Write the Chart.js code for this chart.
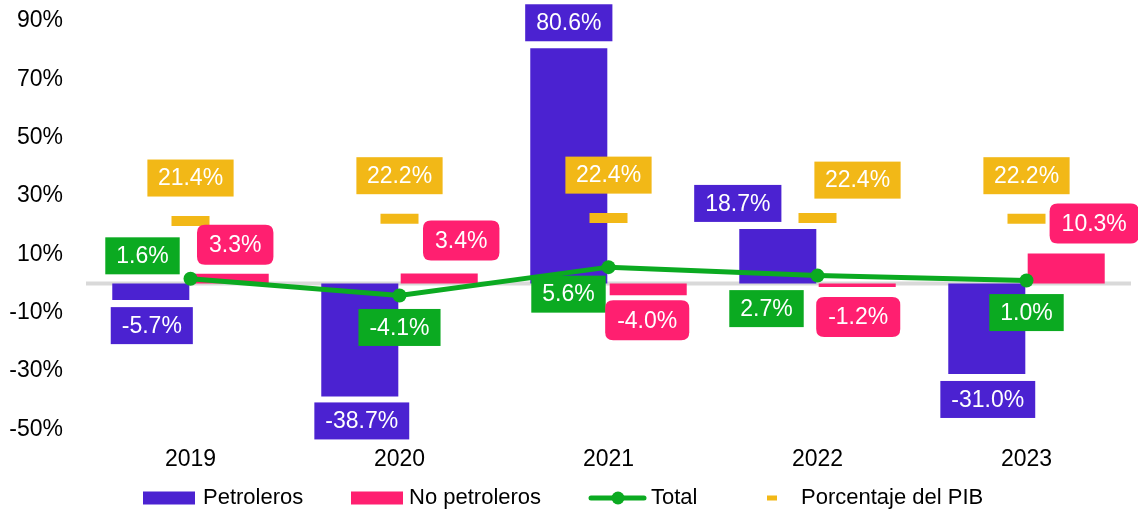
<!DOCTYPE html>
<html>
<head>
<meta charset="utf-8">
<script src="https://cdn.jsdelivr.net/npm/chart.js@4/dist/chart.umd.min.js"></script>
<style>
  html, body { margin: 0; padding: 0; background: #ffffff; }
  #wrap { width: 1138px; height: 512px; position: relative; }
</style>
</head>
<body>
<div id="wrap"><canvas id="c" width="1138" height="512"></canvas></div>
<script>
// ---- data ----
const years = ['2019', '2020', '2021', '2022', '2023'];
const petroleros = [-5.7, -38.7, 80.6, 18.7, -31.0];
const noPetroleros = [3.3, 3.4, -4.0, -1.2, 10.3];
const total = [1.6, -4.1, 5.6, 2.7, 1.0];
const pctPIB = [21.4, 22.2, 22.4, 22.4, 22.2];
const yTickValues = [-50, -30, -10, 10, 30, 50, 70, 90];

// ---- label placement nudges (pixels, relative to default anchor) ----
const nudgePetroleros = [[1, 0], [2, -1], [0, 0], [-40, 0], [1, 0]];
const nudgeNoPetroleros = [[5, -2], [22, -6], [-1, -2], [1, 3], [28, -3]];
const nudgeTotal = [[-48, -23], [0, 32], [-40, 27], [-51, 33], [0, 32]];
const nudgePIB = [[0, 0], [0, 0], [0, 0], [40, 5], [0, 0]];

const PURPLE = '#4B22D1';
const PINK = '#FF1F70';
const GREEN = '#0BAA21';
const YELLOW = '#F2B817';
const FONT = '"Liberation Sans", Arial, sans-serif';

function roundRect(ctx, x, y, w, h, r) {
  ctx.beginPath();
  ctx.moveTo(x + r, y);
  ctx.lineTo(x + w - r, y);
  ctx.quadraticCurveTo(x + w, y, x + w, y + r);
  ctx.lineTo(x + w, y + h - r);
  ctx.quadraticCurveTo(x + w, y + h, x + w - r, y + h);
  ctx.lineTo(x + r, y + h);
  ctx.quadraticCurveTo(x, y + h, x, y + h - r);
  ctx.lineTo(x, y + r);
  ctx.quadraticCurveTo(x, y, x + r, y);
  ctx.closePath();
}

const zeroLinePlugin = {
  id: 'zeroLine',
  beforeDatasetsDraw(chart) {
    const { ctx, chartArea, scales } = chart;
    const y = scales.y.getPixelForValue(0);
    ctx.save();
    ctx.strokeStyle = '#D9D9D9';
    ctx.lineWidth = 4;
    ctx.beginPath();
    ctx.moveTo(chartArea.left, y);
    ctx.lineTo(chartArea.right, y);
    ctx.stroke();
    ctx.restore();
  }
};

const labelPlugin = {
  id: 'valueLabels',
  afterDatasetsDraw(chart) {
    const ctx = chart.ctx;
    ctx.save();
    ctx.font = '23px ' + FONT;
    ctx.textAlign = 'center';
    ctx.textBaseline = 'middle';
    chart.data.datasets.forEach((ds, di) => {
      const meta = chart.getDatasetMeta(di);
      const lab = ds.lbl;
      meta.data.forEach((el, i) => {
        const v = ds.data[i];
        const text = v.toFixed(1) + '%';
        const w = ctx.measureText(text).width + 2 * lab.pad;
        const h = lab.h;
        const [dx, dy] = lab.nudge[i];
        let cx = el.x + dx;
        let cy;
        if (lab.mode === 'bar') {
          const props = el.getProps(['x', 'y', 'base'], true);
          const top = Math.min(props.y, props.base);
          const bot = Math.max(props.y, props.base);
          cy = v >= 0 ? top - 7 - h / 2 : bot + 7 + h / 2;
        } else if (lab.mode === 'above') {
          cy = el.y - 43;
        } else {
          cy = el.y;
        }
        cy += dy;
        ctx.fillStyle = lab.color;
        if (lab.radius > 0) {
          roundRect(ctx, cx - w / 2, cy - h / 2, w, h, lab.radius);
          ctx.fill();
        } else {
          ctx.fillRect(cx - w / 2, cy - h / 2, w, h);
        }
        ctx.fillStyle = '#FFFFFF';
        ctx.fillText(text, cx, cy + 1);
      });
    });
    ctx.restore();
  }
};

const legendPlugin = {
  id: 'customLegend',
  afterDraw(chart) {
    const ctx = chart.ctx;
    const y = 498;
    ctx.save();
    ctx.font = '22px ' + FONT;
    ctx.textAlign = 'left';
    ctx.textBaseline = 'middle';
    // Petroleros
    ctx.fillStyle = PURPLE;
    ctx.fillRect(143, y - 6.5, 52, 13);
    ctx.fillStyle = '#000000';
    ctx.fillText('Petroleros', 203, y);
    // No petroleros
    ctx.fillStyle = PINK;
    ctx.fillRect(351, y - 6.5, 52, 13);
    ctx.fillStyle = '#000000';
    ctx.fillText('No petroleros', 409, y);
    // Total
    ctx.strokeStyle = GREEN;
    ctx.lineWidth = 5;
    ctx.lineCap = 'round';
    ctx.beginPath();
    ctx.moveTo(591, y);
    ctx.lineTo(644, y);
    ctx.stroke();
    ctx.fillStyle = GREEN;
    ctx.beginPath();
    ctx.arc(618, y, 6.5, 0, Math.PI * 2);
    ctx.fill();
    ctx.fillStyle = '#000000';
    ctx.fillText('Total', 651, y);
    // PIB
    ctx.fillStyle = YELLOW;
    ctx.fillRect(767, y - 2.5, 10, 5);
    ctx.fillStyle = '#000000';
    ctx.fillText('Porcentaje del PIB', 801, y);
    ctx.restore();
  }
};

const chart = new Chart(document.getElementById('c'), {
  data: {
    labels: years,
    datasets: [
      {
        type: 'line', label: 'Total', data: total, order: 0,
        borderColor: GREEN, backgroundColor: GREEN, borderWidth: 5,
        pointRadius: 7, pointBackgroundColor: GREEN, pointBorderWidth: 0,
        tension: 0,
        lbl: { mode: 'point', color: GREEN, pad: 11, h: 37, radius: 0, nudge: nudgeTotal }
      },
      {
        type: 'line', label: 'Porcentaje del PIB', data: pctPIB, order: 1,
        showLine: false, pointStyle: 'line', pointRadius: 19,
        pointBorderWidth: 10, pointBorderColor: YELLOW, borderColor: YELLOW,
        lbl: { mode: 'above', color: YELLOW, pad: 10.5, h: 37, radius: 0, nudge: nudgePIB }
      },
      {
        type: 'bar', label: 'Petroleros', data: petroleros, order: 2,
        backgroundColor: PURPLE,
        categoryPercentage: 0.76, barPercentage: 0.97,
        lbl: { mode: 'bar', color: PURPLE, pad: 11, h: 37, radius: 0, nudge: nudgePetroleros }
      },
      {
        type: 'bar', label: 'No petroleros', data: noPetroleros, order: 2,
        backgroundColor: PINK,
        categoryPercentage: 0.76, barPercentage: 0.97,
        lbl: { mode: 'bar', color: PINK, pad: 12, h: 40, radius: 8, nudge: nudgeNoPetroleros }
      }
    ]
  },
  options: {
    responsive: false,
    animation: false,
    events: [],
    layout: { autoPadding: false, padding: { top: 15, right: 7, left: 0, bottom: 0 } },
    plugins: {
      legend: { display: false },
      tooltip: { enabled: false }
    },
    scales: {
      x: {
        offset: true,
        grid: { display: false, drawTicks: false },
        border: { display: false },
        ticks: { font: { family: FONT, size: 23 }, color: '#000000', padding: 2 },
        afterFit(scale) {
          scale.height = 68;
          scale.paddingLeft = 0; scale.paddingRight = 0;
          scale.paddingTop = 0; scale.paddingBottom = 0;
        }
      },
      y: {
        min: -55, max: 92,
        grid: { display: false, drawTicks: false },
        border: { display: false },
        ticks: {
          font: { family: FONT, size: 23 }, color: '#000000', padding: 23,
          callback: (v) => v + '%'
        },
        afterBuildTicks(scale) { scale.ticks = yTickValues.map(v => ({ value: v })); },
        afterFit(scale) {
          scale.width = 86;
          scale.paddingTop = 0; scale.paddingBottom = 0;
          scale.paddingLeft = 0; scale.paddingRight = 0;
        }
      }
    }
  },
  plugins: [zeroLinePlugin, labelPlugin, legendPlugin]
});
</script>
</body>
</html>
